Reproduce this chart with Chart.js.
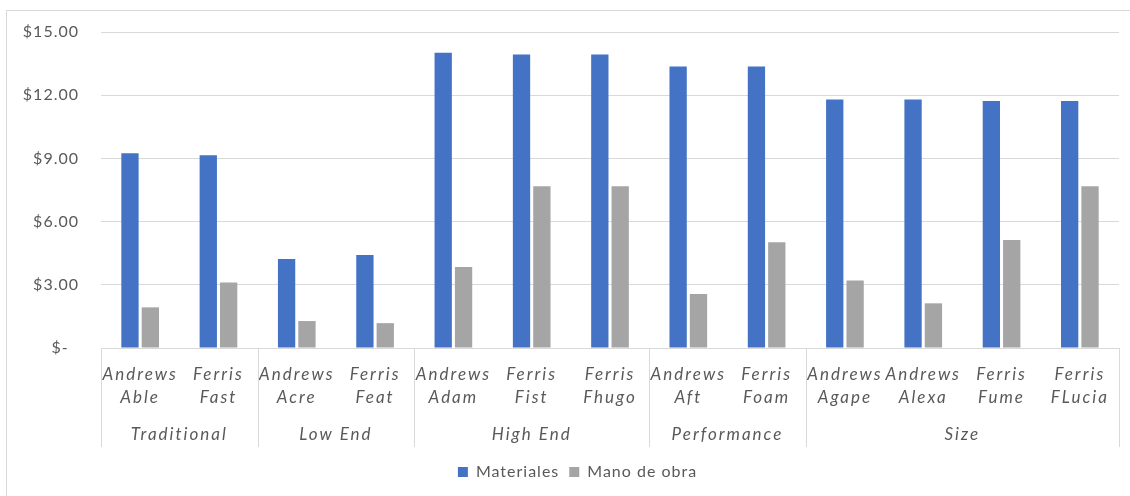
<!DOCTYPE html>
<html>
<head>
<meta charset="utf-8">
<script src="https://cdn.jsdelivr.net/npm/chart.js@4/dist/chart.umd.min.js"></script>
<style>
  html, body { margin: 0; padding: 0; background: #fff; }
  #wrap { position: relative; width: 1130px; height: 496px; overflow: hidden; }
  #frame { position: absolute; left: 6px; top: 10px; width: 1140px; height: 500px;
           border: 1px solid #d9d9d9; box-sizing: border-box; }
  #c { position: absolute; left: 0; top: 0; }
</style>
</head>
<body>
<div id="wrap">
  <div id="frame"></div>
  <canvas id="c" width="1130" height="496"></canvas>
</div>
<script>
// Products, their maker and market segment
const companies = ['Andrews', 'Ferris', 'Andrews', 'Ferris', 'Andrews', 'Ferris', 'Ferris',
                   'Andrews', 'Ferris', 'Andrews', 'Andrews', 'Ferris', 'Ferris'];
const products  = ['Able', 'Fast', 'Acre', 'Feat', 'Adam', 'Fist', 'Fhugo',
                   'Aft', 'Foam', 'Agape', 'Alexa', 'Fume', 'FLucia'];
const segments     = ['Traditional', 'Low End', 'High End', 'Performance', 'Size'];
const segmentSizes = [2, 2, 3, 2, 4];

// Unit costs
const materiales = [9.24, 9.15, 4.22, 4.41, 14.01, 13.93, 13.93, 13.36, 13.36, 11.80, 11.80, 11.72, 11.72];
const manoDeObra = [1.93, 3.11, 1.28, 1.18, 3.84, 7.68, 7.68, 2.56, 5.02, 3.21, 2.12, 5.13, 7.68];

// Value axis
const yTickValues = [0, 3, 6, 9, 12, 15];
const yTickLabels = ['$-  ', '$3.00', '$6.00', '$9.00', '$12.00', '$15.00'];

const TEXT = '#595959';
const LINE = '#d9d9d9';
const FONT = 'Lato, "Open Sans", sans-serif';

const labels = companies.map((c, i) => [c, products[i]]);

// Slightly tracked-out text, applied to the canvas context before measuring and drawing
const spacing = {
  id: 'spacing',
  beforeLayout(chart) { chart.ctx.letterSpacing = '1px'; },
  beforeDraw(chart) { chart.ctx.letterSpacing = '1px'; },
  afterLayout(chart) {
    // nudge the legend row a little to the right
    const lg = chart.legend;
    if (lg) { lg.left += 18; lg.right += 18; }
  }
};

// Segment dividers and segment names under the product labels
const segmentAxis = {
  id: 'segmentAxis',
  afterDraw(chart) {
    const x = chart.scales.x;
    const ctx = chart.ctx;
    const top = x.top;
    const bottom = x.top + 99;
    const edge = i => {
      if (i <= 0) return x.left;
      if (i >= labels.length) return x.right;
      return (x.getPixelForValue(i - 1) + x.getPixelForValue(i)) / 2;
    };
    ctx.save();
    ctx.letterSpacing = '2px';
    ctx.strokeStyle = LINE;
    ctx.lineWidth = 1;
    let start = 0;
    const cuts = [0];
    segmentSizes.forEach(n => { start += n; cuts.push(start); });
    cuts.forEach(i => {
      const px = Math.round(edge(i)) + 0.5;
      ctx.beginPath();
      ctx.moveTo(px, top);
      ctx.lineTo(px, bottom);
      ctx.stroke();
    });
    ctx.fillStyle = TEXT;
    ctx.font = 'italic 17px ' + FONT;
    ctx.textAlign = 'center';
    ctx.textBaseline = 'middle';
    segments.forEach((name, k) => {
      const cx = (edge(cuts[k]) + edge(cuts[k + 1])) / 2;
      ctx.fillText(name, cx, top + 87);
    });
    ctx.restore();
  }
};

// Wider tracking for the product labels on the category axis
function trackedLabels(scale) {
  if (scale._tracked) return;
  scale._tracked = true;
  const base = Object.getPrototypeOf(scale).drawLabels;
  scale.drawLabels = function (area) {
    const ctx = this.ctx;
    const prev = ctx.letterSpacing;
    ctx.letterSpacing = '2px';
    base.call(this, area);
    ctx.letterSpacing = prev;
  };
}

new Chart(document.getElementById('c'), {
  type: 'bar',
  data: {
    labels: labels,
    datasets: [
      { label: 'Materiales', data: materiales, backgroundColor: '#4472C4',
        categoryPercentage: 0.52, barPercentage: 0.85 },
      { label: 'Mano de obra', data: manoDeObra, backgroundColor: '#A5A5A5',
        categoryPercentage: 0.52, barPercentage: 0.85 }
    ]
  },
  options: {
    responsive: false,
    animation: false,
    devicePixelRatio: 1,
    layout: { padding: { left: 0, right: 11, top: 32, bottom: 6 } },
    plugins: {
      tooltip: { enabled: false },
      legend: {
        position: 'bottom',
        labels: {
          color: TEXT,
          font: { family: FONT, size: 16 },
          boxWidth: 10, boxHeight: 10, padding: 10
        }
      }
    },
    scales: {
      x: {
        grid: { display: false, drawTicks: false },
        border: { display: true, color: LINE },
        ticks: {
          color: TEXT,
          autoSkip: false, maxRotation: 0, minRotation: 0,
          padding: 15,
          font: { family: FONT, size: 17, style: 'italic', lineHeight: '23px' }
        },
        afterFit(scale) { scale.height = 106; trackedLabels(scale); }
      },
      y: {
        min: 0, max: 15,
        afterBuildTicks(scale) { scale.ticks = yTickValues.map(v => ({ value: v })); },
        grid: { color: LINE, drawTicks: false },
        border: { display: false },
        ticks: {
          color: TEXT,
          padding: 22,
          font: { family: FONT, size: 16 },
          callback: v => yTickLabels[yTickValues.indexOf(v)]
        },
        afterFit(scale) { scale.width = 101; }
      }
    }
  },
  plugins: [spacing, segmentAxis]
});
</script>
</body>
</html>
